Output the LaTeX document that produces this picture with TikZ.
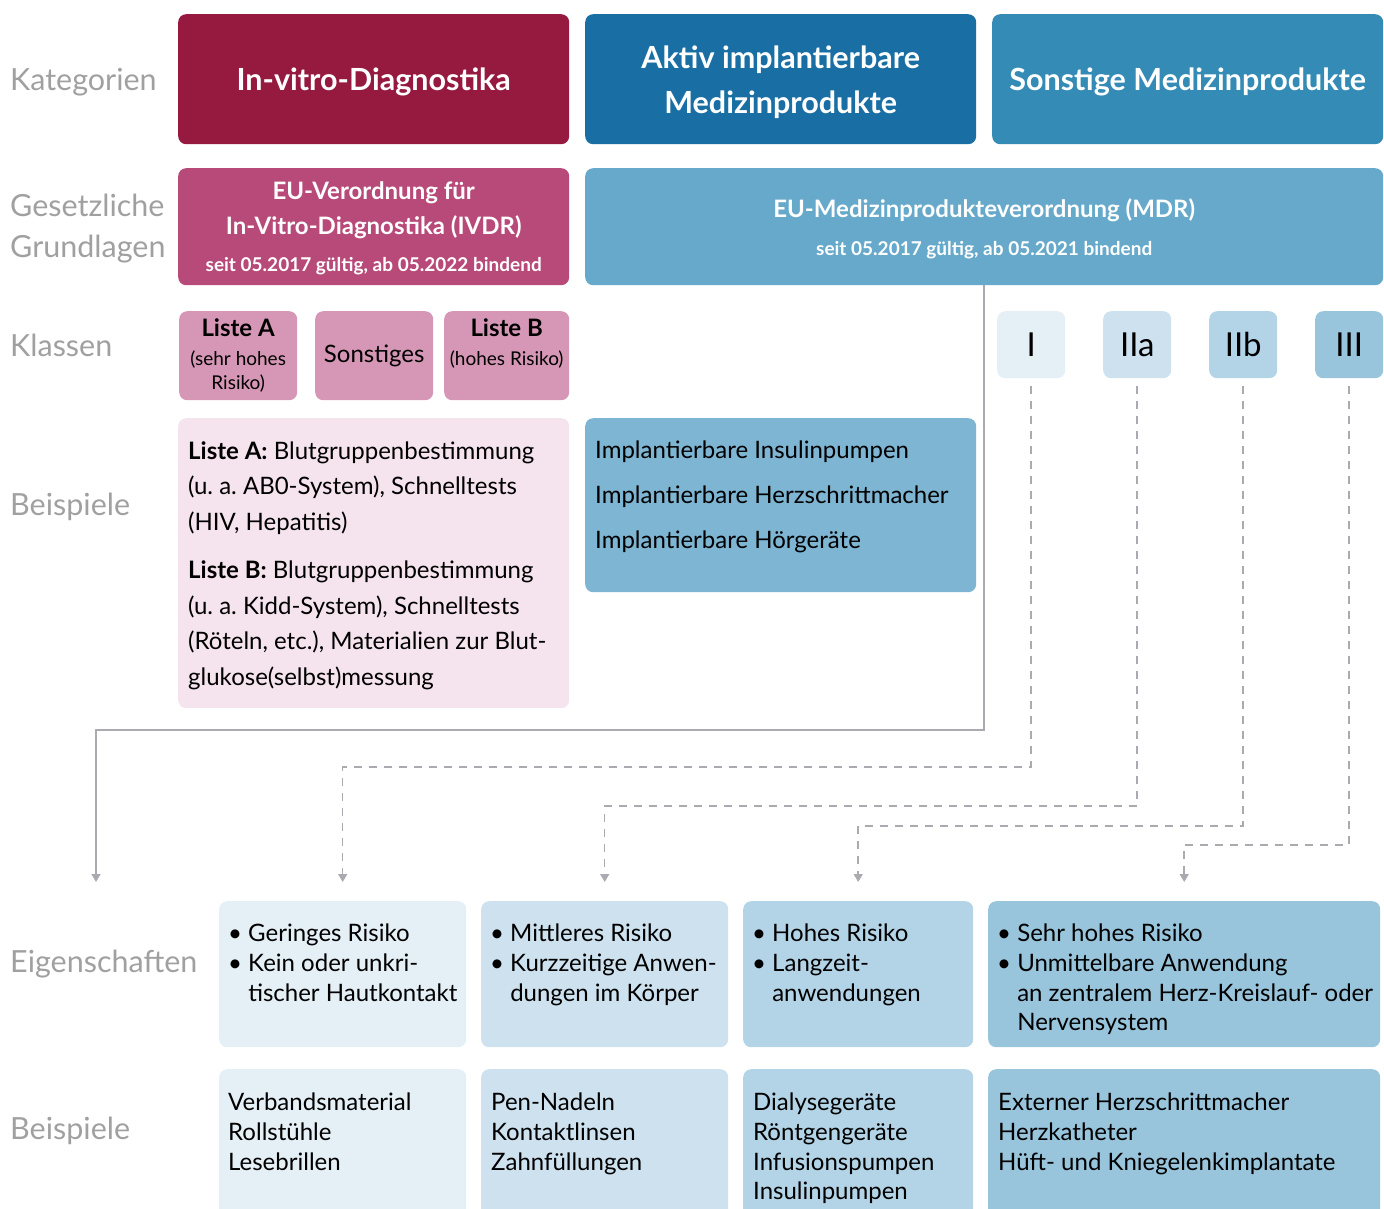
\documentclass[tikz,border=0pt]{standalone}
\usepackage{fontspec}
\setmainfont{Lato}
\usetikzlibrary{arrows.meta}
\definecolor{mydarkred}{RGB}{150, 25, 64}
\definecolor{mydarkblue}{RGB}{25, 110, 163}
\definecolor{mymidblue}{RGB}{52, 139, 181}
\definecolor{mymagenta}{RGB}{184, 74, 122}
\definecolor{mymdrblue}{RGB}{102, 169, 202}
\definecolor{mypink}{RGB}{213, 151, 181}
\definecolor{mypalepink}{RGB}{245, 228, 238}
\definecolor{myexblue}{RGB}{125, 181, 211}
\definecolor{myclassI}{RGB}{228, 239, 246}
\definecolor{myclassIIa}{RGB}{205, 225, 238}
\definecolor{myclassIIb}{RGB}{179, 212, 230}
\definecolor{myclassIII}{RGB}{152, 197, 220}
\definecolor{mylabelgray}{RGB}{160, 160, 160}
\definecolor{mylinegray}{RGB}{170, 170, 176}
\newcommand{\setfs}[2]{\fontsize{#1}{#2}\selectfont}
\frenchspacing

\begin{document}
\begin{tikzpicture}[x=1pt, y=-1pt,
        box/.style={rounded corners=8pt, inner sep=0pt, anchor=north west, align=center},
        head/.style={box, text=white, text depth=0pt, font=\bfseries\setfs{30.5}{45}},
        rowname/.style={anchor=west, inner sep=0pt, text=mylabelgray, align=left, font=\setfs{30.5}{41}},
        txt/.style={anchor=north west, inner sep=0pt, align=left, font=\setfs{24}{29.6}},
        link/.style={draw=mylinegray, line width=1.5pt},
        dashlink/.style={link, dash pattern=on 8pt off 7pt},
        arrowtip/.style={-{Triangle[width=9pt,length=8pt]}}]
        \useasboundingbox (0,0) rectangle (1384,1208);
        \clip (0,0) rectangle (1384,1208);

        % Zeilenbeschriftungen
        \node[rowname] (rkat) at (10,82) {Kategorien};
        \node[rowname] (rges) at (10,229) {Gesetzliche\\Grundlagen};
        \node[rowname] (rkla) at (10,345) {Klassen};
        \node[rowname] (rbei) at (10,507) {Beispiele};
        \node[rowname] (reig) at (10,964) {Eigenschaften};
        \node[rowname] (rbsp) at (10,1131) {Beispiele};

        % Kategorien
        \node[head, fill=mydarkred, minimum width=391pt, minimum height=130pt] (ivd) at (178,14) {In-vitro-Diagnostika};
        \node[head, fill=mydarkblue, minimum width=391pt, minimum height=130pt] (aimd) at (585,14) {Aktiv implantierbare\\Medizinprodukte};
        \node[head, fill=mymidblue, minimum width=391pt, minimum height=130pt] (sonst) at (992,14) {Sonstige Medizinprodukte};

        % Gesetzliche Grundlagen
        \node[box, fill=mymagenta, text=white, text depth=0pt, font=\bfseries\setfs{24}{35}, minimum width=391pt, minimum height=117pt] (ivdr) at (178,168)
            {EU-Verordnung für\\In-Vitro-Diagnostika (IVDR)\\[2pt]{\setfs{19}{22}seit 05.2017 gültig, ab 05.2022 bindend}};
        \node[box, fill=mymdrblue, text=white, text depth=0pt, font=\bfseries\setfs{24}{36}, minimum width=798pt, minimum height=117pt] (mdr) at (585,168)
            {EU-Medizinprodukteverordnung (MDR)\\[2pt]{\setfs{19}{22}seit 05.2017 gültig, ab 05.2021 bindend}};

        % Klassen IVD
        \node[box, fill=mypink, font=\setfs{19}{24}, minimum width=118pt, minimum height=89pt] (lista) at (179,311)
            {\textbf{\setfs{24}{29}Liste A}\\[5pt](sehr hohes\\Risiko)};
        \node[box, fill=mypink, font=\setfs{24}{29}, minimum width=118pt, minimum height=89pt] (sonstiges) at (315,311) {Sonstiges};
        \node[box, fill=mypink, font=\setfs{19}{24}, minimum width=125pt, minimum height=89pt] (listb) at (444,311)
            {\textbf{\setfs{24}{29}Liste B}\\[5pt](hohes Risiko)\\\phantom{Risiko)}};

        % Klassen MDR
        \node[box, fill=myclassI, font=\setfs{33}{40}, minimum width=68pt, minimum height=67pt] (cI) at (997,311) {I};
        \node[box, fill=myclassIIa, font=\setfs{33}{40}, minimum width=68pt, minimum height=67pt] (cIIa) at (1103,311) {IIa};
        \node[box, fill=myclassIIb, font=\setfs{33}{40}, minimum width=68pt, minimum height=67pt] (cIIb) at (1209,311) {IIb};
        \node[box, fill=myclassIII, font=\setfs{33}{40}, minimum width=68pt, minimum height=67pt] (cIII) at (1315,311) {III};

        % Beispiele oben
        \node[box, fill=mypalepink, minimum width=391pt, minimum height=290pt] (bivd) at (178,418) {};
        \node[txt, font=\setfs{24}{35.5}] (tivd) at (188,441)
            {\textbf{Liste A:} Blutgruppenbestimmung\\(u. a. AB0-System), Schnelltests\\(HIV, Hepatitis)\\[13pt]
             \textbf{Liste B:} Blutgruppenbestimmung\\(u. a. Kidd-System), Schnelltests\\(Röteln, etc.), Materialien zur Blut-\\glukose(selbst)messung};
        \node[box, fill=myexblue, minimum width=391pt, minimum height=174pt] (baimd) at (585,418) {};
        \node[txt, font=\setfs{24}{45}] (taimd) at (595,441)
            {Implantierbare Insulinpumpen\\Implantierbare Herzschrittmacher\\Implantierbare Hörgeräte};

        % Eigenschaften
        \node[box, fill=myclassI, minimum width=247pt, minimum height=146pt] (e1) at (219,901) {};
        \node[box, fill=myclassIIa, minimum width=247pt, minimum height=146pt] (e2) at (481,901) {};
        \node[box, fill=myclassIIb, minimum width=230pt, minimum height=146pt] (e3) at (743,901) {};
        \node[box, fill=myclassIII, minimum width=392pt, minimum height=146pt] (e4) at (988,901) {};
        \node[txt] (te1) at (228,924) {\textbullet~Geringes Risiko\\\textbullet~Kein oder unkri-\\\phantom{\textbullet~}tischer Hautkontakt};
        \node[txt] (te2) at (490,924) {\textbullet~Mittleres Risiko\\\textbullet~Kurzzeitige Anwen-\\\phantom{\textbullet~}dungen im Körper};
        \node[txt] (te3) at (752,924) {\textbullet~Hohes Risiko\\\textbullet~Langzeit-\\\phantom{\textbullet~}anwendungen};
        \node[txt] (te4) at (997,924) {\textbullet~Sehr hohes Risiko\\\textbullet~Unmittelbare Anwendung\\\phantom{\textbullet~}an zentralem Herz-Kreislauf- oder\\\phantom{\textbullet~}Nervensystem};

        % Beispiele unten
        \node[box, fill=myclassI, minimum width=247pt, minimum height=160pt] (b1) at (219,1069) {};
        \node[box, fill=myclassIIa, minimum width=247pt, minimum height=160pt] (b2) at (481,1069) {};
        \node[box, fill=myclassIIb, minimum width=230pt, minimum height=160pt] (b3) at (743,1069) {};
        \node[box, fill=myclassIII, minimum width=392pt, minimum height=160pt] (b4) at (988,1069) {};
        \node[txt] (tb1) at (228,1093) {Verbandsmaterial\\Rollstühle\\Lesebrillen};
        \node[txt] (tb2) at (491,1093) {Pen-Nadeln\\Kontaktlinsen\\Zahnfüllungen};
        \node[txt] (tb3) at (753,1093) {Dialysegeräte\\Röntgengeräte\\Infusionspumpen\\Insulinpumpen};
        \node[txt] (tb4) at (998,1093) {Externer Herzschrittmacher\\Herzkatheter\\Hüft- und Kniegelenkimplantate};

        % Verbindungen
        \coordinate (knick) at (984,730);
        \coordinate (alle) at (96,882);
        \draw[link, arrowtip] (mdr.south -| knick) -- (knick) -| (alle);
        \draw[dashlink, arrowtip, shorten <=8pt, shorten >=19pt] (cI.south) -- (cI.south |- 0,767) -| (e1.north);
        \draw[dashlink, arrowtip, shorten <=8pt, shorten >=19pt] (cIIa.south) -- (cIIa.south |- 0,806) -| (e2.north);
        \draw[dashlink, arrowtip, shorten <=8pt, shorten >=19pt] (cIIb.south) -- (cIIb.south |- 0,826) -| (e3.north);
        \draw[dashlink, arrowtip, shorten <=8pt, shorten >=19pt] (cIII.south) -- (cIII.south |- 0,845) -| (e4.north);
\end{tikzpicture}
\end{document}
